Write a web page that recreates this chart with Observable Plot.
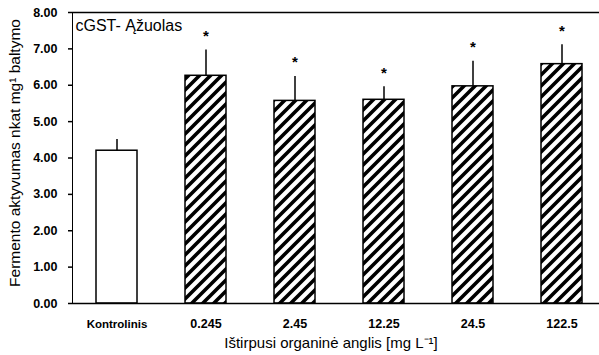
<!DOCTYPE html>
<html>
<head>
<meta charset="utf-8">
<script src="https://cdn.jsdelivr.net/npm/d3@7"></script>
<script src="https://cdn.jsdelivr.net/npm/@observablehq/plot@0.6"></script>
<style>
  html, body { margin: 0; padding: 0; background: #fff; }
  #chart svg { display: block; }
</style>
</head>
<body>
<div id="chart"></div>
<script>
const categories = ["Kontrolinis", "0.245", "2.45", "12.25", "24.5", "122.5"];
const means = [4.20, 6.26, 5.57, 5.60, 5.97, 6.58];
const upperErrors = [4.51, 6.97, 6.24, 5.96, 6.66, 7.11];
const significant = [false, true, true, true, true, true];
const hatched = [false, true, true, true, true, true];
const yTicks = [0, 1, 2, 3, 4, 5, 6, 7, 8];
const titleText = "cGST- Ąžuolas";
const yLabel = "Fermento aktyvumas nkat mg¹ baltymo";
const xLabel = "Ištirpusi organinė anglis [mg L⁻¹]";

const data = categories.map((c, i) => ({
  cat: c, mean: means[i], err: upperErrors[i], sig: significant[i], hatch: hatched[i]
}));

const font = "'Liberation Sans', Arial, sans-serif";

const chart = Plot.plot({
  width: 599,
  height: 355,
  marginLeft: 72,
  marginRight: 0,
  marginTop: 12,
  marginBottom: 52,
  style: { fontFamily: font, fontSize: "12.5px", fontWeight: "bold", color: "#000", background: "#fff" },
  x: {
    type: "band",
    domain: categories,
    range: [72, 606.5],
    paddingInner: 0.54,
    paddingOuter: 0.27,
    tickSize: 0,
    tickPadding: 16,
    label: null
  },
  y: {
    domain: [0, 8],
    ticks: yTicks,
    tickFormat: d3.format(".2f"),
    tickSize: 4,
    tickPadding: 11,
    line: true,
    label: null
  },
  marks: [
    Plot.barY(data, { x: "cat", y: "mean", fill: d => d.hatch ? "url(#hatch)" : "#fff", stroke: "#000", strokeWidth: 1.5 }),
    Plot.ruleX(data, { x: "cat", y1: "mean", y2: "err", stroke: "#000", strokeWidth: 1.5 }),
    Plot.ruleY(data, { x: "cat", y: "err", insetLeft: 17, insetRight: 14, stroke: "#000", strokeWidth: 1.5 }),
    Plot.text(data.filter(d => d.sig), { x: "cat", y: "err", text: () => "*", dy: -14, fontSize: 15, fontWeight: "bold" }),
    Plot.ruleY([0], { stroke: "#000", strokeWidth: 1.5 }),
    Plot.ruleY([8], { stroke: "#000", strokeWidth: 1.5 }),
    Plot.text([titleText], { frameAnchor: "top-left", dx: 3, dy: 13, fontSize: 16, fontWeight: "normal", lineAnchor: "middle" }),
    Plot.text([xLabel], { frameAnchor: "bottom", dx: -5, dy: 40, fontSize: 15, fontWeight: "normal", lineAnchor: "middle" }),
    Plot.text([yLabel], { frameAnchor: "left", dx: -57, dy: -5, rotate: -90, textAnchor: "middle", fontSize: 15.5, fontWeight: "normal", lineAnchor: "middle" })
  ]
});

// hatch pattern
const ns = "http://www.w3.org/2000/svg";
const defs = document.createElementNS(ns, "defs");
defs.innerHTML = `<pattern id="hatch" patternUnits="userSpaceOnUse" width="11" height="11">
  <rect width="11" height="11" fill="#fff"/>
  <path d="M-2,2 L2,-2 M0,11 L11,0 M9,13 L13,9" stroke="#000" stroke-width="3.6" stroke-linecap="square"/>
</pattern>`;
chart.insertBefore(defs, chart.firstChild);
chart.querySelectorAll("[aria-label*='axis'] path, [aria-label*='axis'] line").forEach(el => el.setAttribute("stroke-width", "1.5"));
chart.querySelectorAll("text").forEach(t => {
  if (t.textContent === "Kontrolinis") t.setAttribute("font-size", "11.5px");
});

document.getElementById("chart").appendChild(chart);
</script>
</body>
</html>
